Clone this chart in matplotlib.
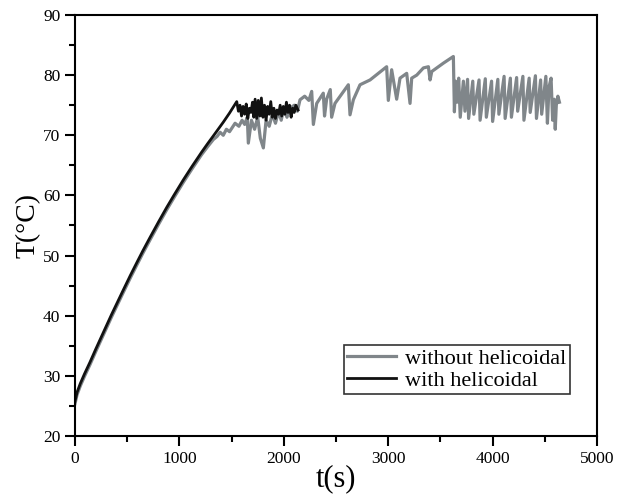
import matplotlib
matplotlib.use("Agg")
import matplotlib.pyplot as plt

# temperature curves
t_without = [0, 20, 50, 90, 144, 200, 271, 350, 463, 530, 591, 650, 718, 800, 878, 950,
             1038, 1120, 1213, 1270, 1325, 1360, 1390, 1420, 1450,
             1480, 1533, 1570, 1600, 1625, 1650, 1660, 1690, 1720, 1750, 1775, 1804, 1830,
             1860, 1890, 1920, 1950, 1975, 2000, 2030, 2060, 2100, 2130,
             2155, 2200, 2240, 2267, 2283, 2315, 2378, 2390, 2410, 2445, 2458, 2490, 2618,
             2634, 2666, 2730, 2826, 2985, 3001, 3033, 3081, 3113, 3177, 3209, 3225, 3273,
             3337, 3385, 3401, 3417, 3529, 3624, 3634,
             3645, 3660, 3675, 3690, 3720, 3735, 3760, 3770, 3810, 3820, 3870, 3880, 3930,
             3940, 3990, 4000, 4050, 4060, 4110, 4120, 4170, 4180, 4230, 4240, 4290, 4300,
             4350, 4360, 4410, 4420, 4460, 4470, 4510, 4525, 4540, 4560, 4575, 4590, 4600,
             4610, 4625, 4640]
T_without = [25.4, 26.9, 28.3, 29.9, 31.9, 34.1, 36.8, 39.8, 43.9, 46.3, 48.4, 50.4, 52.6, 55.2,
             57.6, 59.7, 62.2, 64.4, 66.8, 68.1, 69.3, 69.8, 70.5, 70.0, 71.0,
             70.6, 72.0, 71.5, 72.5, 71.8, 73.0, 68.7, 72.5, 71.0, 73.0, 69.5, 67.9, 72.5,
             71.5, 73.5, 72.0, 74.0, 72.5, 74.5, 73.0, 74.5, 75.0, 74.0,
             75.9, 76.5, 75.8, 77.3, 71.8, 75.3, 77.0, 73.2, 76.0, 77.6, 73.0, 75.3, 78.4,
             73.4, 75.9, 78.4, 79.2, 81.4, 75.8, 80.9, 76.0, 79.5, 80.3, 75.3, 79.5, 80.0,
             81.2, 81.4, 79.2, 80.6, 82.0, 83.1, 73.9,
             79.0, 75.5, 79.5, 73.0, 79.0, 74.0, 79.3, 72.8, 79.0, 73.5, 79.2, 72.5, 79.4,
             73.0, 79.0, 72.3, 79.3, 73.5, 79.8, 72.8, 79.5, 73.0, 79.6, 74.0, 79.8, 72.5,
             79.5, 73.8, 79.9, 72.8, 79.2, 73.5, 79.8, 72.0, 78.0, 79.5, 72.5, 76.0, 71.0,
             75.0, 76.5, 75.5]

t_with = [0, 20, 50, 90, 144, 200, 271, 350, 463, 530, 591, 650, 718, 800, 878, 950,
          1038, 1120, 1213, 1270, 1325, 1421, 1480, 1549,
          1565, 1580, 1595, 1610, 1625, 1640, 1655, 1670, 1685, 1700, 1712, 1725, 1740,
          1755, 1770, 1785, 1800, 1815, 1830, 1845, 1860, 1875, 1890, 1905, 1920, 1935,
          1950, 1965, 1980, 1995, 2010, 2025, 2040, 2055, 2070, 2085, 2100, 2115, 2136]
T_with = [25.8, 27.3, 28.7, 30.3, 32.3, 34.5, 37.2, 40.2, 44.3, 46.7, 48.8, 50.8, 53.0, 55.6,
          58.0, 60.1, 62.6, 64.8, 67.2, 68.6, 69.9, 72.2, 73.7, 75.6,
          74.0, 75.0, 73.2, 74.8, 73.5, 75.2, 72.8, 74.5, 73.8, 75.5, 73.0, 76.0, 72.8,
          75.8, 73.2, 76.2, 73.0, 75.0, 72.5, 74.8, 73.5, 75.6, 73.0, 74.5, 72.8, 74.2,
          73.5, 75.0, 73.2, 74.8, 73.5, 75.5, 73.8, 75.0, 73.0, 74.5, 73.8, 75.0, 74.2]

plt.rcParams['font.family'] = ['Liberation Serif', 'DejaVu Serif']

fig = plt.figure(figsize=(6.17, 4.95), dpi=100)
ax = fig.add_axes([0.1216, 0.1192, 0.846, 0.8505])

ax.plot(t_without, T_without, color='#80868a', lw=2.3, label='without helicoidal')
ax.plot(t_with, T_with, color='#111111', lw=2.0, label='with helicoidal')

ax.set_xlim(0, 5000)
ax.set_ylim(20, 90)
ax.set_xticks(range(0, 5001, 1000))
ax.set_xticks(range(500, 5000, 1000), minor=True)
ax.set_yticks(range(20, 91, 10))
ax.set_yticks(range(25, 90, 10), minor=True)

for s in ax.spines.values():
    s.set_linewidth(1.5)
ax.tick_params(which='major', direction='out', length=7, width=1.5, labelsize=12.5,
               top=False, right=False)
ax.tick_params(which='minor', direction='out', length=4, width=1.5, top=False, right=False)

ax.set_xlabel('t(s)', fontsize=22, labelpad=-2)
ax.set_ylabel('T(°C)', fontsize=20, labelpad=2)

leg = ax.legend(loc='lower left', bbox_to_anchor=(0.515, 0.10), fontsize=16,
                frameon=True, fancybox=False, edgecolor='black', handlelength=2.2,
                handletextpad=0.4, labelspacing=0.05, borderpad=0.15, borderaxespad=0)
leg.get_frame().set_linewidth(1.2)

fig.savefig('out.png', dpi=100)
